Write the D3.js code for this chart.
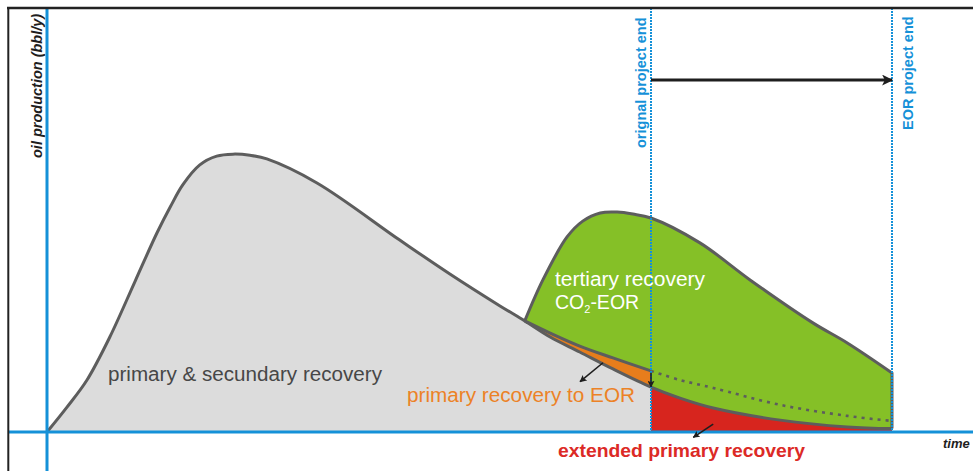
<!DOCTYPE html>
<html><head><meta charset="utf-8">
<script src="https://cdn.jsdelivr.net/npm/d3@7"></script>
<style>html,body{margin:0;padding:0;background:#fff;overflow:hidden}svg{display:block;font-family:"Liberation Sans",Arial,sans-serif}</style>
</head><body><svg id="chart" width="973" height="471"></svg>
<script>
// ---- data (time units, production units) ----
const primarySecondary = [[0,0],[3.31,8.8],[6.62,18.4],[10.4,33.6],[14.6,53.4],[18.2,70.4],[20.4,79.6],[22.5,87.5],[25.3,94.5],[28.1,97.6],[30.8,98.3],[33.6,97.9],[36.4,96.6],[44.7,88.1],[58.4,67.9],[66.7,55.9],[75.0,44.6],[79.1,39.3],[83.3,33.6],[88.2,28.3],[93.7,22.3],[100,15.9]];
const extendedPrimary = [[100,15.9],[104.8,12.0],[110.3,8.5],[121.4,4.2],[132.5,1.8],[139.9,1.2]];
const originalDecline = [[79.1,39.3],[83.3,35.0],[88.2,30.4],[93.7,26.2],[100,21.6],[104.8,18.4],[110.3,15.6],[121.4,9.6],[132.5,5.7],[139.9,3.9]];
const co2Eor = [[79.1,39.3],[82.1,53.8],[86.1,69.0],[88.7,74.6],[91.6,77.5],[94.4,77.8],[97.0,77.1],[100,75.7],[108.1,66.9],[116.4,53.8],[126.8,38.6],[132.5,31.5],[139.9,20.9]];
const projectEnds = [{label:"orignal project end", t:100},{label:"EOR project end", t:139.9}];
const smallArrows = [{from:[92.05,24.5],to:[88.25,17.8]},{from:[100,21.0],to:[100,15.9]},{from:[110.3,2.8],to:[107.0,-1.9]}];
const extensionArrow = {from:[100,124.5],to:[139.9,124.5]};
const eorStart = 79.1, origEnd = 100;

// ---- colours ----
const C = {gray:"#dcdcdc", edge:"#5d5d5d", green:"#85c027", orange:"#e77d1c", red:"#d7251e", blue:"#1591d8", ink:"#1e1e1e"};

const svg = d3.select("#chart");
const x = d3.scaleLinear().domain([0,100]).range([47,651]);
const y = d3.scaleLinear().domain([0,150]).range([432,8]);
const curve = d3.curveCatmullRom.alpha(0.5);

const areaTo0 = d3.area().x(d=>x(d[0])).y0(y(0)).y1(d=>y(d[1])).curve(curve);
const line = d3.line().x(d=>x(d[0])).y(d=>y(d[1])).curve(curve);

// fills
svg.append("path").attr("d", areaTo0(co2Eor)).attr("fill", C.green);
svg.append("path").attr("d", areaTo0(primarySecondary)).attr("fill", C.gray);
const lowerSeg = primarySecondary.filter(d=>d[0]>=eorStart);
const upperSeg = originalDecline.filter(d=>d[0]<=origEnd);
const band = lowerSeg.map((d,i)=>[d[0], d[1], upperSeg[i][1]]);
svg.append("path").attr("d", d3.area().x(d=>x(d[0])).y0(d=>y(d[1])).y1(d=>y(d[2])).curve(curve)(band)).attr("fill", C.orange);
svg.append("path").attr("d", areaTo0(extendedPrimary)).attr("fill", C.red);

// edges
const edge = g => g.attr("fill","none").attr("stroke",C.edge).attr("stroke-width",3).attr("stroke-linejoin","round");
svg.append("path").attr("d", line(primarySecondary.concat(extendedPrimary.slice(1)))).call(edge);
svg.append("path").attr("d", line(upperSeg)).call(edge);
svg.append("path").attr("d", line(originalDecline.filter(d=>d[0]>=origEnd))).call(edge).attr("stroke-dasharray","3,5").attr("stroke-width",2.6);
const last = co2Eor[co2Eor.length-1];
svg.append("path").attr("d", line(co2Eor) + "L" + x(last[0]) + "," + y(extendedPrimary[extendedPrimary.length-1][1])).call(edge);

// project end lines
svg.selectAll("line.pe").data(projectEnds).join("line")
  .attr("x1", d=>x(d.t)).attr("x2", d=>x(d.t)).attr("y1", y(150)).attr("y2", y(0))
  .attr("stroke", C.blue).attr("stroke-width", 2).attr("stroke-dasharray","2,1");

// axes
svg.append("line").attr("x1", 8).attr("x2", 973).attr("y1", y(0)).attr("y2", y(0)).attr("stroke", C.blue).attr("stroke-width", 3);
svg.append("line").attr("x1", x(0)).attr("x2", x(0)).attr("y1", y(150)).attr("y2", 471).attr("stroke", C.blue).attr("stroke-width", 3);
// frame
svg.append("line").attr("x1", 7).attr("x2", 973).attr("y1", 8).attr("y2", 8).attr("stroke", "#222").attr("stroke-width", 2.5);
svg.append("line").attr("x1", 8.3).attr("x2", 8.3).attr("y1", 7).attr("y2", 471).attr("stroke", "#222").attr("stroke-width", 2);

// markers
const defs = svg.append("defs");
defs.append("marker").attr("id","headBig").attr("viewBox","0 0 10 10").attr("refX",9).attr("refY",5)
  .attr("markerWidth",11).attr("markerHeight",11).attr("markerUnits","userSpaceOnUse").attr("orient","auto")
  .append("path").attr("d","M0,0 L10,5 L0,10 L2.5,5 z").attr("fill",C.ink);
defs.append("marker").attr("id","headSmall").attr("viewBox","0 0 10 10").attr("refX",9).attr("refY",5)
  .attr("markerWidth",7).attr("markerHeight",7).attr("markerUnits","userSpaceOnUse").attr("orient","auto")
  .append("path").attr("d","M0,0 L10,5 L0,10 L2,5 z").attr("fill",C.ink);

svg.append("line").attr("x1", x(extensionArrow.from[0])).attr("y1", y(extensionArrow.from[1]))
  .attr("x2", x(extensionArrow.to[0])).attr("y2", y(extensionArrow.to[1]))
  .attr("stroke", C.ink).attr("stroke-width", 3).attr("marker-end","url(#headBig)");
svg.selectAll("line.sa").data(smallArrows).join("line")
  .attr("x1", d=>x(d.from[0])).attr("y1", d=>y(d.from[1])).attr("x2", d=>x(d.to[0])).attr("y2", d=>y(d.to[1]))
  .attr("stroke", C.ink).attr("stroke-width", 1.6).attr("marker-end","url(#headSmall)");

// texts
svg.append("text").attr("transform","translate(41.5,158) rotate(-90)").attr("font-size",14.5)
  .attr("font-weight","bold").attr("font-style","italic").attr("fill",C.ink).text("oil production (bbl/y)");
svg.append("text").attr("x",943).attr("y",448).attr("font-size",13).attr("font-weight","bold").attr("font-style","italic")
  .attr("fill",C.ink).text("time");
const peBase = [{dx:-5, start:148},{dx:21, start:130}];
svg.selectAll("text.pe").data(projectEnds).join("text")
  .attr("transform",(d,i)=>`translate(${x(d.t)+peBase[i].dx},${peBase[i].start}) rotate(-90)`)
  .attr("font-size",14.5).attr("font-weight","bold").attr("fill",C.blue).text(d=>d.label);

svg.append("text").attr("x",555).attr("y",286).attr("font-size",19.5).attr("fill","#fff")
  .attr("textLength",150).attr("lengthAdjust","spacingAndGlyphs").text("tertiary recovery");
const co = svg.append("text").attr("x",555).attr("y",309).attr("font-size",19.5).attr("fill","#fff");
co.append("tspan").text("CO");
co.append("tspan").attr("font-size",11).attr("dy",4).text("2");
co.append("tspan").attr("dy",-4).text("-EOR");

svg.append("text").attr("x",108).attr("y",381).attr("font-size",19.5).attr("fill","#474747")
  .attr("textLength",274).attr("lengthAdjust","spacingAndGlyphs").text("primary & secundary recovery");
svg.append("text").attr("x",407).attr("y",402).attr("font-size",19.5).attr("fill","#ec8226")
  .attr("textLength",228).attr("lengthAdjust","spacingAndGlyphs").text("primary recovery to EOR");
svg.append("text").attr("x",558).attr("y",457).attr("font-size",19).attr("font-weight","bold").attr("fill","#dc2a26")
  .attr("textLength",247).attr("lengthAdjust","spacingAndGlyphs").text("extended primary recovery");
</script></body></html>
